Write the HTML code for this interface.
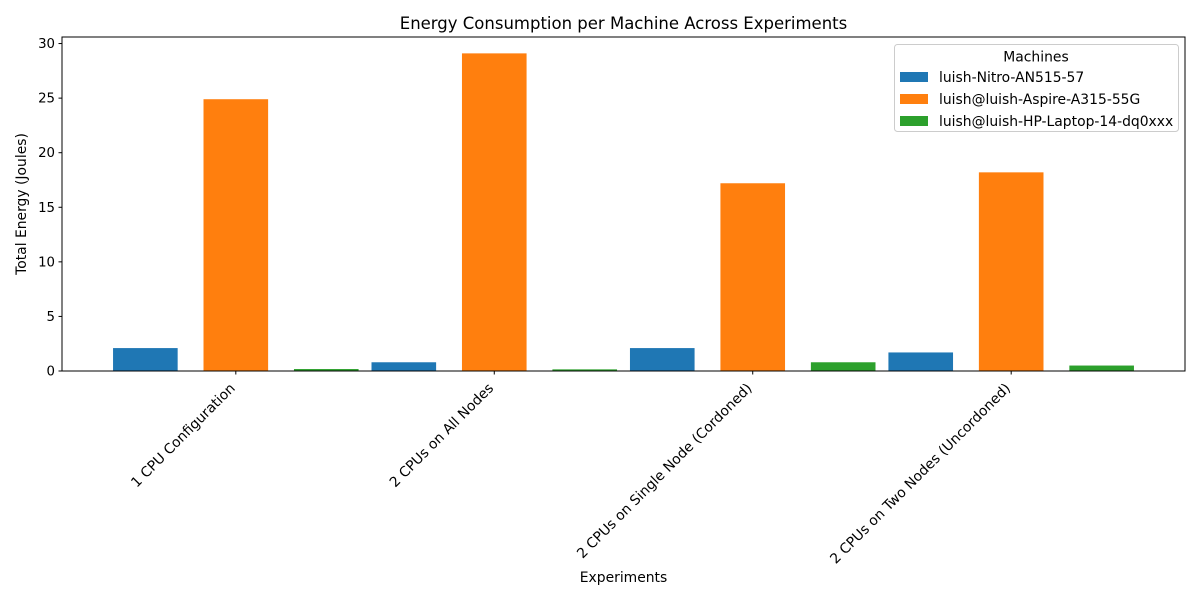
<!DOCTYPE html>
<html><head><meta charset="utf-8"><style>
body{margin:0;background:#fff;font-family:"DejaVu Sans","Liberation Sans",sans-serif}
text{font-family:"DejaVu Sans","Liberation Sans",sans-serif}
</style></head><body>
<svg id="chart" width="1200" height="600" xmlns="http://www.w3.org/2000/svg"></svg>
<script>
const categories=["1 CPU Configuration","2 CPUs on All Nodes","2 CPUs on Single Node (Cordoned)","2 CPUs on Two Nodes (Uncordoned)"];
const seriesNames=["luish-Nitro-AN515-57","luish@luish-Aspire-A315-55G","luish@luish-HP-Laptop-14-dq0xxx"];
const nitroValues=[2.1,0.8,2.1,1.7];
const aspireValues=[24.9,29.1,17.2,18.2];
const hpValues=[0.18,0.15,0.8,0.5];
const yTicks=[0,5,10,15,20,25,30];
const colors=["#1f77b4","#ff7f0e","#2ca02c"];
const series=[nitroValues,aspireValues,hpValues];
const svg=document.getElementById('chart');
const NS="http://www.w3.org/2000/svg";
const L=62,R=1185,T=37,B=371;
const xmin=-0.6725,xmax=3.6725,ymax=30.6;
const xs=v=>L+(v-xmin)/(xmax-xmin)*(R-L);
const ys=v=>B-v/ymax*(B-T);
function mk(tag,attrs,parent){const e=document.createElementNS(NS,tag);for(const k in attrs)e.setAttribute(k,attrs[k]);(parent||svg).appendChild(e);return e;}
const bw=0.25,off=0.35;
series.forEach((vals,s)=>{vals.forEach((v,i)=>{
 const cx=i+(s-1)*off;
 const r=mk('rect',{x:xs(cx-bw/2),y:ys(v),width:xs(cx+bw/2)-xs(cx-bw/2),height:B-ys(v),fill:colors[s]});
 
 
});});
const frame=mk('rect',{x:L,y:T,width:R-L,height:B-T,fill:'none',stroke:'#000','stroke-width':1});


yTicks.forEach(t=>{
 const y=ys(t);
 mk('line',{x1:L-3.5,x2:L,y1:y,y2:y,stroke:'#000'});
 const tx=mk('text',{x:L-7,y:y+4.5,'text-anchor':'end','font-size':13.3,fill:'#000'});tx.textContent=t;
 
 
});
categories.forEach((c,i)=>{
 const x=xs(i);
 mk('line',{x1:x,x2:x,y1:B,y2:B+3.5,stroke:'#000'});
 const tx=mk('text',{x:x,y:B+18,'text-anchor':'end','font-size':13.9,fill:'#000',transform:`rotate(-45 ${x} ${B+18})`});tx.textContent=c;
 
 
});
const title=mk('text',{x:(L+R)/2,y:29,'text-anchor':'middle','font-size':16.5});title.textContent="Energy Consumption per Machine Across Experiments";


const xt=mk('text',{x:(L+R)/2,y:582,'text-anchor':'middle','font-size':13.9});xt.textContent="Experiments";


const yt=mk('text',{x:26,y:(T+B)/2,'text-anchor':'middle','font-size':13.9,transform:`rotate(-90 26 ${(T+B)/2})`});yt.textContent="Total Energy (Joules)";


const lg=mk('g',{});


mk('rect',{x:894.5,y:44.5,width:284,height:87,rx:3,fill:'#fff','fill-opacity':0.8,stroke:'#ccc'},lg);
const lt=mk('text',{x:1036,y:61.5,'text-anchor':'middle','font-size':13.9},lg);lt.textContent="Machines";
seriesNames.forEach((n,i)=>{
 const y=77+i*22;
 const sw=mk('rect',{x:900,y:y-5,width:28,height:10,fill:colors[i]},lg);
 
 
 const t=mk('text',{x:939,y:y+5,'font-size':13.9},lg);t.textContent=n;
 
 
});
</script>
</body></html>
